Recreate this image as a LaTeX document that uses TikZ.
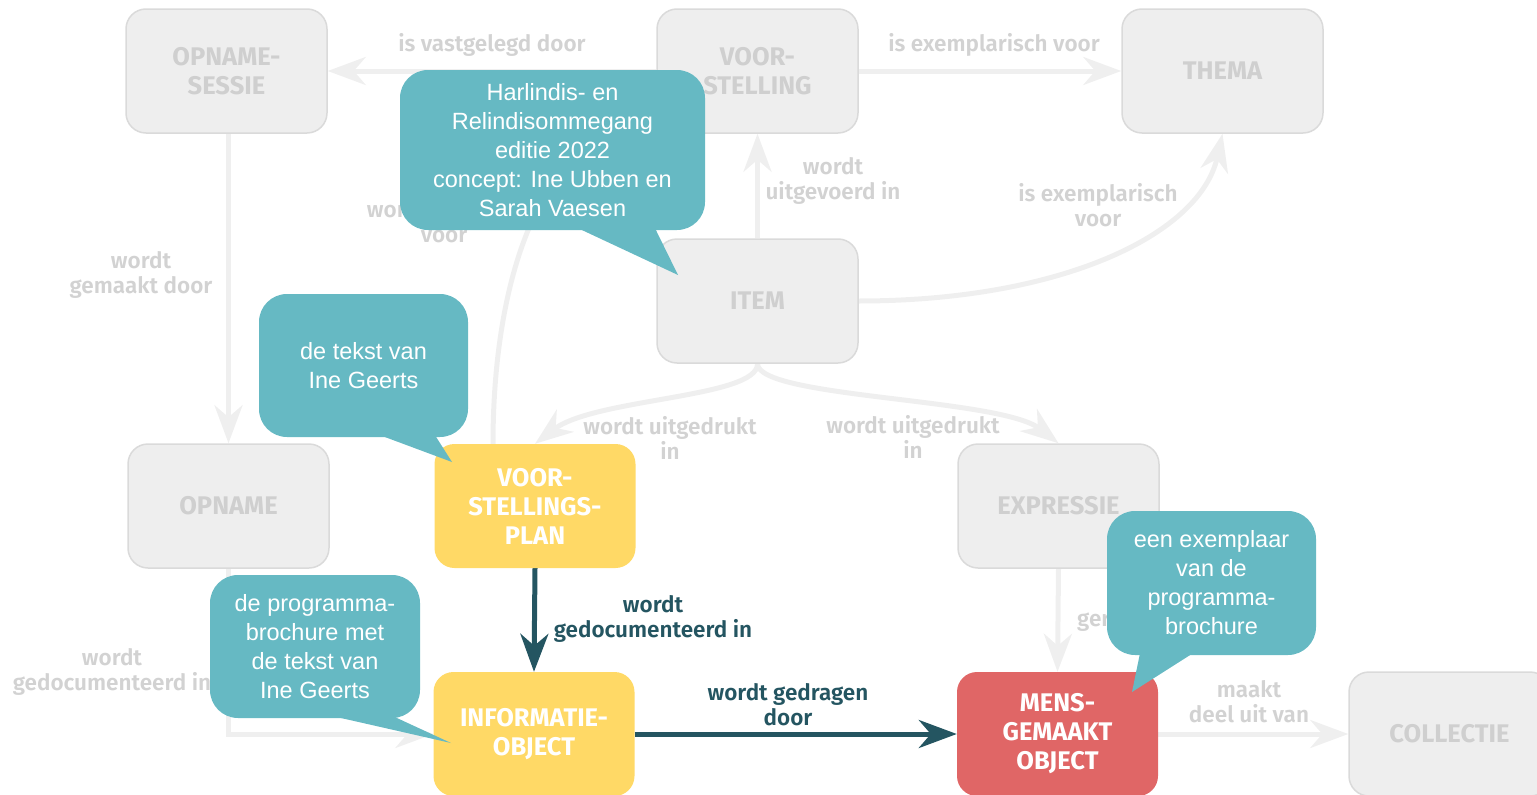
\documentclass[tikz,border=0pt]{standalone}
\usepackage{fontspec}
\setmainfont{Liberation Sans}
\newfontfamily\nodefont{Fira Sans}[UprightFont={* SemiBold},BoldFont={* Bold}]
\newfontfamily\labfont{Fira Sans}[UprightFont={* SemiBold}]
\usetikzlibrary{arrows.meta,calc}
\pgfdeclarelayer{bg}
\pgfsetlayers{bg,main}
\definecolor{gfill}{HTML}{EEEEEE}
\definecolor{gborder}{HTML}{DADADA}
\definecolor{gtext}{HTML}{CFCFCF}
\definecolor{edgegray}{HTML}{EFEFEF}
\definecolor{ltext}{HTML}{D2D2D2}
\definecolor{darkteal}{HTML}{245561}
\definecolor{yel}{HTML}{FFD966}
\definecolor{redbox}{HTML}{E06666}
\definecolor{callteal}{HTML}{66B9C3}
\tikzset{
  box/.style={rounded corners=20pt, minimum width=201pt, minimum height=124pt, align=center, inner sep=0pt, font=\nodefont\bfseries\fontsize{25.5}{29}\selectfont},
  gbox/.style={box, fill=gfill, draw=gborder, line width=1.5pt, text=gtext},
  ybox/.style={box, fill=yel, text=white},
  rbox/.style={box, fill=redbox, text=white},
  lab/.style={align=center, inner sep=0pt, font=\labfont\fontsize{22.5}{25}\selectfont, text=ltext},
  dlab/.style={lab, text=darkteal},
  tip/.style={-{Stealth[length=38pt,width=28pt,inset=12pt]}},
  ledge/.style={tip, draw=edgegray, line width=5pt},
  dedge/.style={tip, draw=darkteal, line width=5pt},
  cbox/.style={fill=callteal, rounded corners=28pt, align=center, inner sep=0pt, text=white, font=\fontsize{23.5}{29}\selectfont},
  ctail/.style={fill=callteal}
}
\begin{document}
\begin{tikzpicture}[x=1pt,y=-1pt]
\useasboundingbox (0,0) rectangle (1537,795);
\coordinate (hid) at (657,115);
% nodes
\node[gbox] (sessie) at (226.5,71) {OPNAME-\\SESSIE};
\node[gbox] (voor) at (757.5,71) {VOOR-\\STELLING};
\node[gbox] (thema) at (1222.5,71) {THEMA};
\node[gbox] (item) at (757.5,301) {ITEM};
\node[gbox] (opname) at (228.5,506) {OPNAME};
\node[gbox] (expr) at (1058.5,506) {EXPRESSIE};
\node[gbox] (coll) at (1449.5,734) {COLLECTIE};
\node[ybox] (plan) at (535,506) {VOOR-\\STELLINGS-\\PLAN};
\node[ybox] (info) at (534,734) {INFORMATIE-\\OBJECT};
\node[rbox] (mens) at (1057.5,734) {MENS-\\GEMAAKT\\OBJECT};

% edges behind nodes
\begin{pgfonlayer}{bg}
\draw[ledge] (voor.west) -- (sessie.east);
\draw[ledge] (voor.east) -- (thema.west);
\draw[ledge] (item.north) -- (voor.south);
\draw[ledge] (item.east) .. controls (1060,301) and (1200,235) .. (thema.south);
\draw[ledge] (sessie.south -| opname.north) -- (opname.north);
\draw[ledge] ([xshift=-42pt]plan.north) .. controls (493,300) and (530,150) .. (hid);
\draw[ledge] (item.south) .. controls (758,398) and (595,398) .. (plan.north);
\draw[ledge] (item.south) .. controls (758,398) and (1000,398) .. (expr.north);
\draw[ledge] (opname.south) |- (info.west);
\draw[ledge] (expr.south) -- (mens.north);
\draw[ledge] (mens.east) -- (coll.west);
\draw[dedge] (plan.south) -- (info.north);
\draw[dedge] (info.east) -- (mens.west);
\end{pgfonlayer}

% labels
\node[lab] (l1) at (492,45) {is vastgelegd door};
\node[lab] (l2) at (994,45) {is exemplarisch voor};
\node[lab] (l3) at (833,181) {wordt\\uitgevoerd in};
\node[lab] (l4) at (1098,205.5) {is exemplarisch\\voor};
\node[lab] (l5) at (141,274.5) {wordt\\gemaakt door};
\node[lab] (l6) at (444,221.5) {wordt gemaakt\\voor};
\node[lab] (l7) at (670,438) {wordt uitgedrukt\\in};
\node[lab] (l8) at (913,437) {wordt uitgedrukt\\in};
\node[lab] (l9) at (112,672) {wordt\\gedocumenteerd in};
\node[lab, anchor=west] (l10) at (1077,620) {gerealiseerd in};
\node[lab] (l11) at (1249,702) {maakt\\deel uit van};
\node[dlab] (d1) at (653,618.5) {wordt\\gedocumenteerd in};
\node[dlab] (d2) at (788,704.5) {wordt gedragen\\door};

% callouts
\node[cbox, minimum width=305pt, minimum height=160pt] (c1) at (552.5,150) {Harlindis- en\\Relindisommegang\\editie 2022\\concept: Ine Ubben en\\Sarah Vaesen};
\coordinate (t1) at (678,275);
\fill[ctail] ($(c1.south)+(25.5,-2)$) -- (t1) -- ($(c1.south)+(102.5,-2)$) -- cycle;

\node[cbox, minimum width=209pt, minimum height=143pt] (c2) at (363.5,365.5) {de tekst van\\Ine Geerts};
\coordinate (t2) at (452,462);
\fill[ctail] ($(c2.south)+(16.5,-2)$) -- (t2) -- ($(c2.south)+(71.5,-2)$) -- cycle;

\node[cbox, minimum width=210pt, minimum height=143pt] (c3) at (315,646.5) {de programma-\\brochure met\\de tekst van\\Ine Geerts};
\coordinate (t3) at (451,743);
\fill[ctail] ($(c3.south)+(18,-2)$) -- (t3) -- ($(c3.south)+(78,-2)$) -- cycle;

\node[cbox, minimum width=209pt, minimum height=144pt] (c4) at (1211.5,583) {een exemplaar\\van de\\programma-\\brochure};
\coordinate (t4) at (1132,692);
\fill[ctail] ($(c4.south)+(-71.5,-2)$) -- (t4) -- ($(c4.south)+(-18.5,-2)$) -- cycle;
\end{tikzpicture}
\end{document}
